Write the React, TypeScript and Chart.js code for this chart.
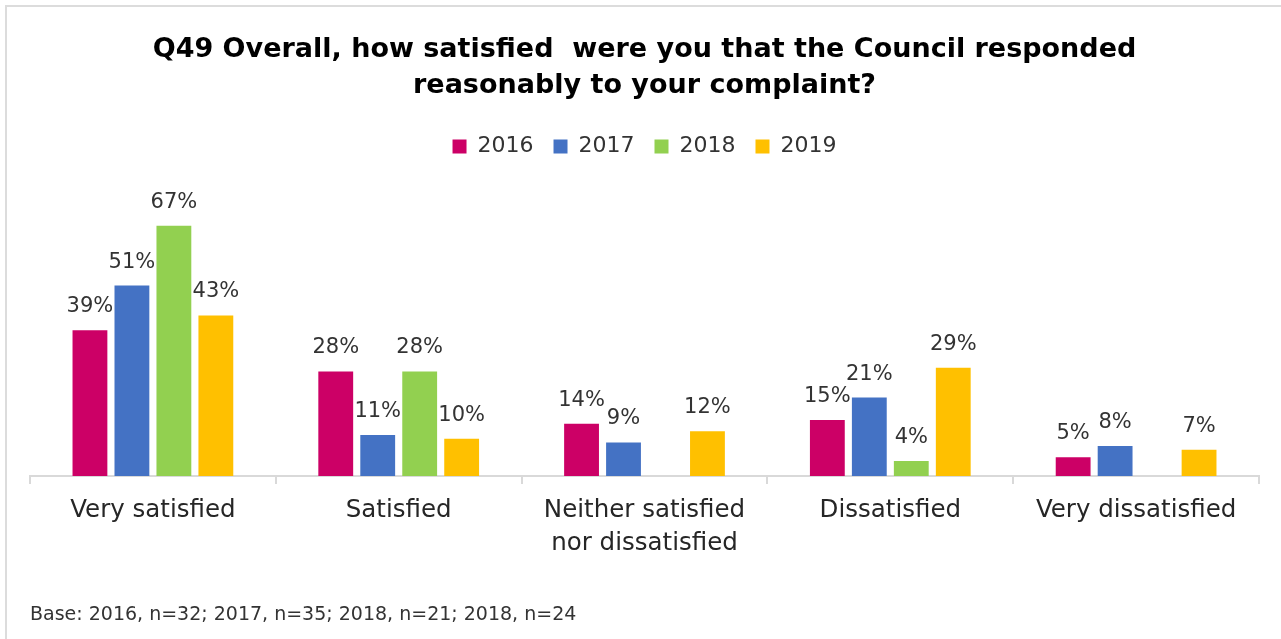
import React, { useEffect, useRef } from "react";
import { Chart, registerables } from "chart.js";

Chart.register(...registerables);

const titleLines = [
  "Q49 Overall, how satisfied  were you that the Council responded",
  "reasonably to your complaint?",
];
const footerText = "Base: 2016, n=32; 2017, n=35; 2018, n=21; 2018, n=24";

const categories: (string | string[])[] = [
  "Very satisfied",
  "Satisfied",
  ["Neither satisfied", "nor dissatisfied"],
  "Dissatisfied",
  "Very dissatisfied",
];

const seriesNames = ["2016", "2017", "2018", "2019"];
const values2016 = [39, 28, 14, 15, 5];
const values2017 = [51, 11, 9, 21, 8];
const values2018 = [67, 28, null, 4, null];
const values2019 = [43, 10, 12, 29, 7];
const seriesColors = ["#CC0066", "#4472C4", "#92D050", "#FFC000"];

const FONT = "'DejaVu Sans', Lato, sans-serif";

const dataLabels = {
  id: "dataLabels",
  afterDatasetsDraw(chart: any) {
    const ctx = chart.ctx;
    ctx.save();
    ctx.font = `21px ${FONT}`;
    ctx.fillStyle = "#333333";
    ctx.textAlign = "center";
    ctx.textBaseline = "alphabetic";
    chart.data.datasets.forEach((ds: any, i: number) => {
      const meta = chart.getDatasetMeta(i);
      meta.data.forEach((bar: any, j: number) => {
        const v = ds.data[j];
        if (v === null || v === undefined) return;
        ctx.fillText(`${v}%`, bar.x, bar.y - 18);
      });
    });
    ctx.restore();
  },
};

export default function App() {
  const canvasRef = useRef<HTMLCanvasElement | null>(null);

  useEffect(() => {
    if (!canvasRef.current) return;
    const seriesValues = [values2016, values2017, values2018, values2019];
    const chart = new Chart(canvasRef.current, {
      type: "bar",
      data: {
        labels: categories as any,
        datasets: seriesNames.map((name, i) => ({
          label: name,
          data: seriesValues[i] as any,
          backgroundColor: seriesColors[i],
          borderWidth: 0,
          categoryPercentage: 0.683,
          barPercentage: 0.83,
        })),
      },
      options: {
        animation: false,
        responsive: false,
        layout: { padding: { top: 0, left: 30, right: 22, bottom: 12 } },
        scales: {
          x: {
            grid: {
              display: true,
              drawOnChartArea: false,
              drawTicks: true,
              tickLength: 8,
              color: "#d9d9d9",
              lineWidth: 2,
              offset: true,
            },
            border: { display: true, color: "#d9d9d9", width: 2 },
            ticks: {
              autoSkip: false,
              maxRotation: 0,
              minRotation: 0,
              padding: 10.5,
              color: "#262626",
              font: { family: FONT, size: 24.5, lineHeight: 33 / 24.5 },
            },
            afterFit: (scale: any) => {
              scale.height = 127;
            },
          },
          y: {
            display: false,
            min: 0,
            max: 82.6,
          },
        },
        plugins: {
          title: {
            display: true,
            text: titleLines,
            color: "#000000",
            font: { family: FONT, size: 27, weight: "bold", lineHeight: 36 / 27 },
            padding: { top: 32, bottom: 11.5 },
          },
          legend: {
            display: true,
            position: "top",
            labels: {
              boxWidth: 14,
              boxHeight: 14,
              padding: 20,
              color: "#333333",
              font: { family: FONT, size: 22 },
            },
          },
          subtitle: {
            display: true,
            position: "bottom",
            align: "start",
            text: footerText,
            color: "#333333",
            font: { family: FONT, size: 19, lineHeight: 24 / 19 },
            padding: { top: 0, bottom: 0 },
          },
          tooltip: { enabled: false },
        },
      },
      plugins: [dataLabels],
    });
    return () => chart.destroy();
  }, []);

  return (
    <div
      style={{
        position: "fixed",
        left: 0,
        top: 0,
        width: 1281,
        height: 639,
        background: "#ffffff",
        overflow: "hidden",
      }}
    >
      <canvas ref={canvasRef} width={1281} height={639} style={{ display: "block" }} />
      <div
        style={{
          position: "absolute",
          left: 5,
          top: 5,
          width: 1276,
          height: 634,
          borderTop: "2px solid #dcdcdc",
          borderLeft: "2px solid #dcdcdc",
          pointerEvents: "none",
        }}
      />
    </div>
  );
}
